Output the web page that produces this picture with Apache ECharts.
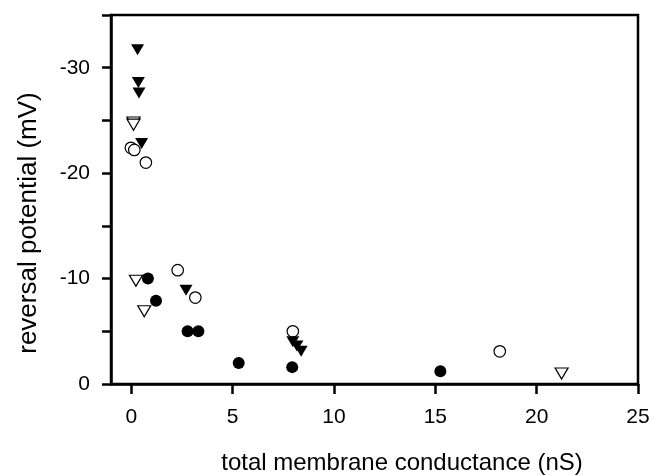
<!DOCTYPE html>
<html>
<head>
<meta charset="utf-8">
<script src="https://cdn.jsdelivr.net/npm/echarts@6/dist/echarts.min.js"></script>
<style>
html,body{margin:0;padding:0;background:#fff;}
#chart{width:653px;height:475px;}
</style>
</head>
<body>
<div id="chart"></div>
<script>
// total membrane conductance (nS) vs reversal potential (mV)
var filledCircleX = [0.82, 1.22, 2.78, 3.31, 5.30, 7.94, 15.25];
var filledCircleY = [-10.0, -7.9, -5.0, -5.0, -2.0, -1.6, -1.2];

var openCircleX = [-0.02, 0.15, 0.72, 2.29, 3.16, 7.97, 18.18];
var openCircleY = [-22.4, -22.2, -21.0, -10.8, -8.2, -5.0, -3.1];

var filledTriX = [0.31, 0.35, 0.38, 0.51, 2.70, 7.97, 8.17, 8.38];
var filledTriY = [-31.7, -28.6, -27.6, -22.8, -8.9, -4.0, -3.6, -3.1];

var openTriX = [0.11, 0.11, 0.23, 0.64, 21.23];
var openTriY = [-24.8, -24.6, -9.8, -6.9, -1.0];

var xTicks = [0, 5, 10, 15, 20, 25];
var yTickLabels = [-30, -20, -10, 0];

var xTitle = 'total membrane conductance (nS)';
var yTitle = 'reversal potential (mV)';

function pairs(xs, ys) {
  return xs.map(function (x, i) { return [x, ys[i]]; });
}

var FONT = 'Liberation Sans, Arial, sans-serif';
var chart = echarts.init(document.getElementById('chart'), null, {renderer: 'canvas'});

var filledStyle = {color: '#000', borderColor: '#000', borderWidth: 0, opacity: 1};
var openStyle = {color: '#fff', borderColor: '#000', borderWidth: 1.2, opacity: 1};

chart.setOption({
  animation: false,
  backgroundColor: '#fff',
  grid: {left: 111, right: 15, top: 15, bottom: 91, show: true, borderColor: '#000', borderWidth: 2.5, backgroundColor: 'transparent'},
  xAxis: {
    type: 'value', min: -1, max: 25,
    axisLine: {show: true, onZero: false, lineStyle: {color: '#000', width: 2.5}},
    axisTick: {show: true, inside: false, length: 10, lineStyle: {color: '#000', width: 2.5}, customValues: xTicks},
    axisLabel: {color: '#000', fontFamily: FONT, fontSize: 21, margin: 23, customValues: xTicks},
    splitLine: {show: false}
  },
  yAxis: {
    type: 'value', min: -35, max: 0, interval: 5, inverse: true,
    axisLine: {show: true, onZero: false, lineStyle: {color: '#000', width: 2.5}},
    axisTick: {show: true, inside: false, length: 9, lineStyle: {color: '#000', width: 2.5}},
    axisLabel: {color: '#000', fontFamily: FONT, fontSize: 21, margin: 21, customValues: yTickLabels},
    splitLine: {show: false}
  },
  graphic: [
    {type: 'text', x: 29, y: 223, rotation: Math.PI / 2,
     style: {text: yTitle, font: '26px ' + FONT, fill: '#000', textAlign: 'center', textVerticalAlign: 'middle'}},
    {type: 'text', x: 402, y: 463,
     style: {text: xTitle, font: '24px ' + FONT, fill: '#000', textAlign: 'center', textVerticalAlign: 'middle'}}
  ],
  series: [
    {type: 'scatter', name: 'filled circle', symbol: 'circle', symbolSize: 12, data: pairs(filledCircleX, filledCircleY), itemStyle: filledStyle, z: 3},
    {type: 'scatter', name: 'open circle', symbol: 'circle', symbolSize: 11.5, data: pairs(openCircleX, openCircleY), itemStyle: openStyle, z: 2},
    {type: 'scatter', name: 'filled triangle', symbol: 'triangle', symbolRotate: 180, symbolSize: [13, 11], data: pairs(filledTriX, filledTriY), itemStyle: filledStyle, z: 4},
    {type: 'scatter', name: 'open triangle', symbol: 'triangle', symbolRotate: 180, symbolSize: [13, 11], data: pairs(openTriX, openTriY), itemStyle: openStyle, z: 2}
  ]
});
</script>
</body>
</html>
